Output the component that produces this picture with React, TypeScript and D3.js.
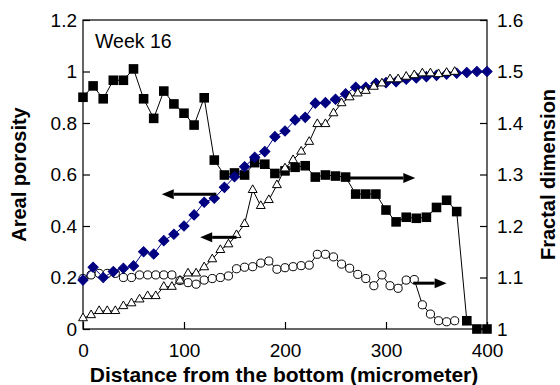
import { useEffect, useRef } from "react";
import * as d3 from "d3";

// distances (micrometer) for the 10 µm series (diamonds, squares)
const distance10 = [
  0, 10, 20, 30, 40, 50, 60, 70, 80, 90, 100, 110, 120, 130, 140, 150, 160, 170,
  180, 190, 200, 210, 220, 230, 240, 250, 260, 270, 280, 290, 300, 310, 320, 330,
  340, 350, 360, 370, 380, 390, 400,
];
// distances for the 8 µm series (triangles, circles)
const distance8 = [
  0, 8, 16, 24, 32, 40, 48, 56, 64, 72, 80, 88, 96, 104, 112, 120, 128, 136, 144,
  152, 160, 168, 176, 184, 192, 200, 208, 216, 224, 232, 240, 248, 256, 264, 272,
  280, 288, 296, 304, 312, 320, 328, 336, 344, 352, 360, 368,
];

// areal porosity (left axis)
const porosityDiamond = [
  0.19, 0.24, 0.2, 0.223, 0.236, 0.245, 0.3, 0.291, 0.343, 0.368, 0.4, 0.443,
  0.492, 0.508, 0.55, 0.591, 0.63, 0.667, 0.689, 0.747, 0.769, 0.812, 0.822,
  0.877, 0.879, 0.892, 0.913, 0.939, 0.939, 0.954, 0.957, 0.96, 0.97, 0.975,
  0.98, 0.985, 0.99, 0.993, 0.996, 1.0, 1.0,
];
const porosityTriangle = [
  0.042, 0.054, 0.07, 0.07, 0.07, 0.089, 0.1, 0.115, 0.128, 0.128, 0.164, 0.164,
  0.188, 0.216, 0.216, 0.24, 0.271, 0.307, 0.329, 0.365, 0.408, 0.54, 0.478,
  0.501, 0.559, 0.624, 0.656, 0.689, 0.727, 0.796, 0.796, 0.838, 0.877, 0.9,
  0.915, 0.925, 0.941, 0.954, 0.97, 0.97, 0.98, 0.986, 0.993, 0.993, 0.99,
  0.995, 0.999,
];

// fractal dimension (right axis)
const fractalSquare = [
  1.45, 1.472, 1.447, 1.483, 1.483, 1.505, 1.447, 1.409, 1.462, 1.437, 1.419,
  1.396, 1.449, 1.328, 1.299, 1.303, 1.299, 1.323, 1.32, 1.302, 1.307, 1.314,
  1.317, 1.295, 1.299, 1.297, 1.295, 1.262, 1.262, 1.262, 1.231, 1.208, 1.217,
  1.215, 1.217, 1.236, 1.25, 1.228, 1.016, 1.0, 1.0,
];
const fractalCircle = [
  1.098, 1.105, 1.108, 1.108, 1.108, 1.1, 1.1, 1.105, 1.105, 1.105, 1.105, 1.105,
  1.094, 1.09, 1.087, 1.095, 1.098, 1.1, 1.103, 1.117, 1.12, 1.121, 1.128, 1.132,
  1.116, 1.119, 1.121, 1.123, 1.124, 1.145, 1.145, 1.14, 1.126, 1.118, 1.106,
  1.098, 1.084, 1.105, 1.084, 1.079, 1.095, 1.096, 1.047, 1.029, 1.016, 1.014,
  1.016,
];

const xTicks = [0, 100, 200, 300, 400];
const leftTicks = [0, 0.2, 0.4, 0.6, 0.8, 1, 1.2];
const rightTicks = [1, 1.1, 1.2, 1.3, 1.4, 1.5, 1.6];

// arrows pointing to the axis each series belongs to
const arrowFrom = [132, 152, 261, 327];
const arrowTo = [78, 116, 329, 360];
const arrowLevel = [0.523, 0.356, 1.293, 1.089];
const arrowAxis = ["left", "left", "right", "right"];

const WIDTH = 560;
const HEIGHT = 385;
const margin = { top: 20, right: 73, bottom: 56, left: 83 };
const FONT = "'Liberation Sans', Arial, sans-serif";

export default function App() {
  const svgRef = useRef<SVGSVGElement | null>(null);

  useEffect(() => {
    const svg = d3.select(svgRef.current);
    svg.selectAll("*").remove();

    const innerW = WIDTH - margin.left - margin.right;
    const innerH = HEIGHT - margin.top - margin.bottom;

    const x = d3.scaleLinear().domain([0, 400]).range([0, innerW]);
    const yL = d3.scaleLinear().domain([0, 1.2]).range([innerH, 0]);
    const yR = d3.scaleLinear().domain([1, 1.6]).range([innerH, 0]);

    const g = svg
      .append("g")
      .attr("transform", `translate(${margin.left},${margin.top})`);

    // frame
    g.append("rect")
      .attr("width", innerW)
      .attr("height", innerH)
      .attr("fill", "none")
      .attr("stroke", "#000")
      .attr("stroke-width", 1.2);

    const styleAxis = (sel: any) => {
      sel.select(".domain").remove();
      sel.selectAll("line").attr("stroke", "#000").attr("stroke-width", 1.2);
      sel
        .selectAll("text")
        .attr("font-family", FONT)
        .attr("font-size", 19)
        .attr("fill", "#000");
    };

    g.append("g")
      .attr("transform", `translate(0,${innerH})`)
      .call(
        d3
          .axisBottom(x)
          .tickValues(xTicks)
          .tickSize(-7)
          .tickPadding(15)
          .tickFormat((d) => String(d)),
      )
      .call(styleAxis);

    g.append("g")
      .call(
        d3
          .axisLeft(yL)
          .tickValues(leftTicks)
          .tickSize(-7)
          .tickPadding(6)
          .tickFormat((d) => String(d)),
      )
      .call(styleAxis);

    g.append("g")
      .attr("transform", `translate(${innerW},0)`)
      .call(
        d3
          .axisRight(yR)
          .tickValues(rightTicks)
          .tickSize(-7)
          .tickPadding(10)
          .tickFormat((d) => String(d)),
      )
      .call(styleAxis);

    const squarePts = fractalSquare.map((v, i) => [x(distance10[i]), yR(v)]);
    const circlePts = fractalCircle.map((v, i) => [x(distance8[i]), yR(v)]);
    const diamondPts = porosityDiamond.map((v, i) => [x(distance10[i]), yL(v)]);
    const trianglePts = porosityTriangle.map((v, i) => [
      x(distance8[i]),
      yL(v),
    ]);

    const drawSeries = (
      pts: number[][],
      lineColor: string,
      symbol: d3.SymbolType,
      size: number,
      fill: string,
      stroke: string,
      rotate: number,
    ) => {
      g.append("path")
        .attr("d", d3.line()(pts as [number, number][]))
        .attr("fill", "none")
        .attr("stroke", lineColor)
        .attr("stroke-width", 1);
      g.append("g")
        .selectAll("path")
        .data(pts)
        .join("path")
        .attr("d", d3.symbol().type(symbol).size(size)())
        .attr(
          "transform",
          (d) => `translate(${d[0]},${d[1]}) rotate(${rotate})`,
        )
        .attr("fill", fill)
        .attr("stroke", stroke)
        .attr("stroke-width", 1);
    };

    drawSeries(squarePts, "#000", d3.symbolSquare, 92, "#000", "none", 0);
    drawSeries(circlePts, "#000", d3.symbolCircle, 52, "#fff", "#000", 0);
    drawSeries(diamondPts, "#000080", d3.symbolSquare, 52, "#000080", "#000080", 45);
    drawSeries(trianglePts, "#000", d3.symbolTriangle, 34, "#fff", "#000", 0);

    // arrows
    arrowFrom.forEach((from, i) => {
      const yScale = arrowAxis[i] === "left" ? yL : yR;
      const x1 = x(from);
      const x2 = x(arrowTo[i]);
      const yy = yScale(arrowLevel[i]);
      const dir = Math.sign(x2 - x1);
      const headLen = 12;
      g.append("line")
        .attr("x1", x1)
        .attr("x2", x2 - dir * headLen)
        .attr("y1", yy)
        .attr("y2", yy)
        .attr("stroke", "#000")
        .attr("stroke-width", 3);
      g.append("path")
        .attr(
          "d",
          `M${x2},${yy}L${x2 - dir * headLen},${yy - 5}L${x2 - dir * headLen},${yy + 5}Z`,
        )
        .attr("fill", "#000");
    });

    // label inside the plot
    g.append("text")
      .attr("x", 12)
      .attr("y", 28)
      .attr("font-family", FONT)
      .attr("font-size", 19.5)
      .text("Week 16");

    // axis titles
    svg
      .append("text")
      .attr("x", 284)
      .attr("y", 382)
      .attr("text-anchor", "middle")
      .attr("font-family", FONT)
      .attr("font-weight", "bold")
      .attr("font-size", 21)
      .text("Distance from the bottom (micrometer)");

    svg
      .append("text")
      .attr("transform", `translate(26,${margin.top + innerH / 2}) rotate(-90)`)
      .attr("text-anchor", "middle")
      .attr("font-family", FONT)
      .attr("font-weight", "bold")
      .attr("font-size", 20)
      .text("Areal porosity");

    svg
      .append("text")
      .attr(
        "transform",
        `translate(555,${margin.top + innerH / 2}) rotate(-90)`,
      )
      .attr("text-anchor", "middle")
      .attr("font-family", FONT)
      .attr("font-weight", "bold")
      .attr("font-size", 20)
      .text("Fractal dimension");
  }, []);

  return (
    <div style={{ position: "absolute", left: 0, top: 0 }}>
      <svg
        ref={svgRef}
        width={WIDTH}
        height={HEIGHT}
        style={{ display: "block", background: "#fff" }}
      />
    </div>
  );
}
